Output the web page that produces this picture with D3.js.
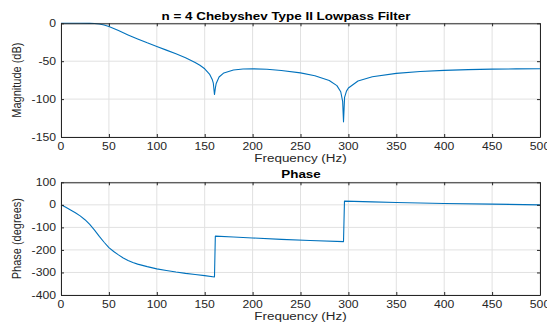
<!DOCTYPE html>
<html>
<head>
<meta charset="utf-8">
<script src="https://cdn.jsdelivr.net/npm/d3@7"></script>
<style>
  html, body { margin: 0; padding: 0; background: #fff; }
  svg { display: block; font-family: "Liberation Sans", Arial, Helvetica, sans-serif; }
</style>
</head>
<body>
<svg id="chart" width="547" height="322"></svg>
<script>
// ---- data ----
const xTicks = [0, 50, 100, 150, 200, 250, 300, 350, 400, 450, 500];
const magTicks = [-150, -100, -50, 0];
const phaseTicks = [-400, -300, -200, -100, 0, 100];

const magFreq = [0, 10, 20, 30, 35, 40, 45, 50, 55, 60, 65, 70, 75, 80, 90, 100, 110, 120, 130, 140, 145, 150,
  155, 158, 159, 160.2, 161.1, 162, 165, 170, 180, 190, 200, 215, 230, 250, 265, 280, 288, 292, 294, 294.9,
  296, 298, 300, 310, 325, 350, 375, 400, 425, 450, 475, 500];
const magDb = [0, 0, 0, -0.1, -0.35, -1.0, -2.25, -4.3, -6.8, -9.6, -12.5, -15.3, -18.0, -20.6, -25.8, -30.6,
  -35.4, -40.3, -45.5, -51.7, -55.4, -60.0, -66.9, -74.6, -79.0, -94.0, -85.7, -79.3, -70.8, -65.5, -61.6,
  -60.3, -60.0, -60.7, -62.2, -65.4, -69.1, -75.4, -82.2, -90.3, -103.0, -130.0, -97.7, -89.5, -85.4, -76.1,
  -70.6, -66.1, -63.6, -62.1, -61.1, -60.5, -60.1, -60.0];

const phaseFreq = [0, 5, 10, 15, 20, 25, 30, 35, 40, 45, 50, 55, 60, 65, 70, 75, 80, 90, 100, 110, 120, 130,
  140, 150, 160.2, 161.1, 180, 200, 230, 260, 294.9, 295.9, 325, 350, 400, 450, 500];
const phaseDeg = [0, -11, -23, -35, -49, -66, -87, -112, -140, -166, -190, -207, -222, -236, -247, -256, -263,
  -274, -284, -291, -298, -304, -309, -314, -320, -139, -143, -147, -153, -158, -163, 16.5, 13, 10.5, 6, 3, 0];

const titleTop = "n = 4 Chebyshev Type II Lowpass Filter";
const titleBottom = "Phase";
const xLabel = "Frequency (Hz)";
const yLabelTop = "Magnitude (dB)";
const yLabelBottom = "Phase (degrees)";

// ---- drawing ----
const svg = d3.select("#chart");
const SX = 1.22;             // horizontal stretch of the reference text
const axisColor = "#262626";
const gridColor = "#e1e1e1";
const lineColor = "#0072BD";

const x = d3.scaleLinear().domain([0, 500]).range([61, 540]);

function addText(sel, str, tx, ty, opts) {
  const o = Object.assign({ size: 10, anchor: "middle", weight: "normal", rotate: 0 }, opts || {});
  const t = sel.append("text")
    .attr("text-anchor", o.anchor)
    .attr("font-size", o.size)
    .attr("font-weight", o.weight)
    .attr("fill", o.color || axisColor)
    .text(str);
  if (o.rotate) t.attr("transform", `translate(${tx},${ty}) rotate(${o.rotate}) scale(1,${SX})`);
  else t.attr("transform", `translate(${tx},${ty}) scale(${SX},1)`);
  return t;
}

function panel(y, yTicks, freqs, vals, cfg) {
  const g = svg.append("g");
  const [x0, x1] = x.range();
  const [yb, yt] = y.range();

  // grid
  g.append("g").selectAll("line.vx").data(xTicks).join("line")
    .attr("x1", d => x(d)).attr("x2", d => x(d)).attr("y1", yt).attr("y2", yb)
    .attr("stroke", gridColor).attr("stroke-width", 1);
  g.append("g").selectAll("line.hy").data(yTicks).join("line")
    .attr("x1", x0).attr("x2", x1).attr("y1", d => y(d)).attr("y2", d => y(d))
    .attr("stroke", gridColor).attr("stroke-width", 1);

  // data line
  const line = d3.line().x(d => x(d[0])).y(d => y(d[1]));
  g.append("path")
    .datum(freqs.map((f, i) => [f, vals[i]]))
    .attr("d", line)
    .attr("fill", "none")
    .attr("stroke", lineColor)
    .attr("stroke-width", 1.1)
    .attr("stroke-linejoin", "round");

  // axes (inward ticks on all four sides)
  const bottom = g.append("g").attr("transform", `translate(0,${yb})`)
    .call(d3.axisBottom(x).tickValues(xTicks).tickSizeInner(-3).tickSizeOuter(0).tickFormat(""));
  const top = g.append("g").attr("transform", `translate(0,${yt})`)
    .call(d3.axisTop(x).tickValues(xTicks).tickSizeInner(-3).tickSizeOuter(0).tickFormat(""));
  const left = g.append("g").attr("transform", `translate(${x0},0)`)
    .call(d3.axisLeft(y).tickValues(yTicks).tickSizeInner(-3).tickSizeOuter(0).tickFormat(""));
  const right = g.append("g").attr("transform", `translate(${x1},0)`)
    .call(d3.axisRight(y).tickValues(yTicks).tickSizeInner(-3).tickSizeOuter(0).tickFormat(""));
  [bottom, top, left, right].forEach(a => {
    a.selectAll("path.domain").attr("stroke", axisColor).attr("stroke-width", 1);
    a.selectAll(".tick line").attr("stroke", axisColor).attr("stroke-width", 1);
  });

  // tick labels
  xTicks.forEach(d => addText(g, String(d), x(d), cfg.xTickBase, { size: 10 }));
  yTicks.forEach(d => addText(g, String(d), 56, y(d) + 3.6, { size: 10, anchor: "end" }));

  // labels and title
  addText(g, xLabel, 300.5, cfg.xLabelBase, { size: 11 });
  addText(g, cfg.yLabel, 21, (yb + yt) / 2, { size: 11, rotate: -90 });
  addText(g, cfg.title, cfg.titleX, cfg.titleBase, { size: 11, weight: "bold", color: "#000" });
}

const yMag = d3.scaleLinear().domain([-150, 0]).range([137, 23.3]);
const yPhase = d3.scaleLinear().domain([-400, 100]).range([295, 182.3]);

panel(yMag, magTicks, magFreq, magDb, {
  xTickBase: 150, xLabelBase: 162, yLabel: yLabelTop,
  title: titleTop, titleX: 286, titleBase: 20.3
});
panel(yPhase, phaseTicks, phaseFreq, phaseDeg, {
  xTickBase: 308, xLabelBase: 319.5, yLabel: yLabelBottom,
  title: titleBottom, titleX: 301, titleBase: 178.3
});
</script>
</body>
</html>
